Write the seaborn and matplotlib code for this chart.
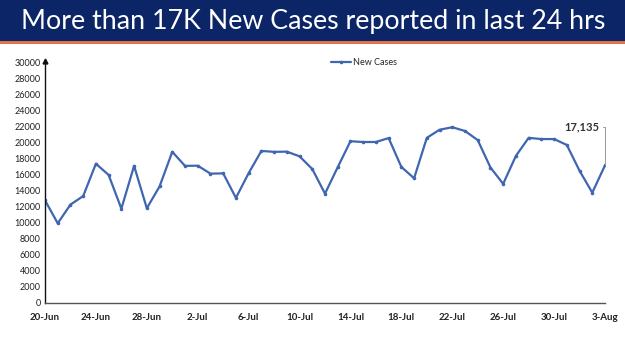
import matplotlib
matplotlib.use("Agg")
import matplotlib.pyplot as plt
import seaborn as sns
import pandas as pd
from matplotlib.patches import Rectangle

dates = ["20-Jun", "21-Jun", "22-Jun", "23-Jun", "24-Jun", "25-Jun", "26-Jun", "27-Jun",
         "28-Jun", "29-Jun", "30-Jun", "1-Jul", "2-Jul", "3-Jul", "4-Jul", "5-Jul",
         "6-Jul", "7-Jul", "8-Jul", "9-Jul", "10-Jul", "11-Jul", "12-Jul", "13-Jul",
         "14-Jul", "15-Jul", "16-Jul", "17-Jul", "18-Jul", "19-Jul", "20-Jul", "21-Jul",
         "22-Jul", "23-Jul", "24-Jul", "25-Jul", "26-Jul", "27-Jul", "28-Jul", "29-Jul",
         "30-Jul", "31-Jul", "1-Aug", "2-Aug", "3-Aug"]
new_cases = [12781, 9923, 12249, 13313, 17336, 15940, 11739, 17073,
             11793, 14506, 18819, 17070, 17092, 16103, 16135, 13086,
             16159, 18930, 18815, 18840, 18257, 16678, 13615, 16906,
             20139, 20038, 20044, 20528, 16935, 15528, 20557, 21566,
             21880, 21411, 20279, 16866, 14830, 18313, 20557, 20409,
             20408, 19673, 16464, 13734, 17135]
y_ticks = list(range(0, 30001, 2000))
title_text = "More than 17K New Cases reported in last 24 hrs"
annot_text = "17,135"

df = pd.DataFrame({"idx": range(len(dates)), "date": dates, "New Cases": new_cases})

sns.set_style("white")
plt.rcParams['font.family'] = ['Lato', 'DejaVu Sans']

fig = plt.figure(figsize=(6.25, 3.51), dpi=100)
fig.patch.set_facecolor("white")

# title banner
fig.patches.append(Rectangle((0, 1 - 41/351), 1, 41/351, transform=fig.transFigure,
                             facecolor="#0b2566", edgecolor="none", zorder=0))
fig.patches.append(Rectangle((0, 1 - 43.5/351), 1, 2.5/351, transform=fig.transFigure,
                             facecolor="#e0734a", edgecolor="none", zorder=0))
fig.text(313/625, 1 - 21/351, title_text, color="white", fontsize=19.3,
         ha="center", va="center")

ax = fig.add_axes([45/625, 1 - 303/351, 560/625, 241/351])
line_color = "#4066b0"
sns.lineplot(data=df, x="idx", y="New Cases", ax=ax, color=line_color, linewidth=1.6,
             marker="o", markersize=2.6, markeredgewidth=0, label="New Cases")

ax.set_xlim(0, len(dates) - 1)
ax.set_ylim(0, 30000)
ax.set_yticks(y_ticks)
ax.set_yticklabels([str(v) for v in y_ticks], fontsize=6.5, color="#222222")
xt = list(range(0, len(dates), 4))
ax.set_xticks(xt)
ax.set_xticklabels([dates[i] for i in xt], fontsize=7, fontweight="bold", color="#222222")
ax.set_xlabel("")
ax.set_ylabel("")
ax.tick_params(axis="x", length=3, width=0.8, direction="out", pad=4, color="#444444")
ax.tick_params(axis="y", length=0, pad=3)
for s in ["top", "right"]:
    ax.spines[s].set_visible(False)
ax.spines["left"].set_color("#111111")
ax.spines["bottom"].set_color("#555555")
ax.spines["left"].set_linewidth(1.0)
ax.spines["bottom"].set_linewidth(1.0)
ax.plot(0, 1.005, marker="^", color="#111111", markersize=3.5,
        transform=ax.transAxes, clip_on=False)

leg = ax.legend(loc="upper center", bbox_to_anchor=(0.57, 1.05), frameon=False,
                fontsize=6.5, handlelength=2.2, handletextpad=0.2)

# annotation for the last point
last_i = len(dates) - 1
last_v = new_cases[-1]
ax.annotate(annot_text, xy=(last_i, last_v), xytext=(last_i - 0.45, 21960),
            fontsize=8, fontweight="bold", color="#333333", ha="right", va="center",
            arrowprops=dict(arrowstyle="-", color="#999999", lw=0.7,
                            connectionstyle="angle,angleA=0,angleB=90,rad=0",
                            shrinkA=0, shrinkB=0))

fig.savefig("out.png", dpi=100)
